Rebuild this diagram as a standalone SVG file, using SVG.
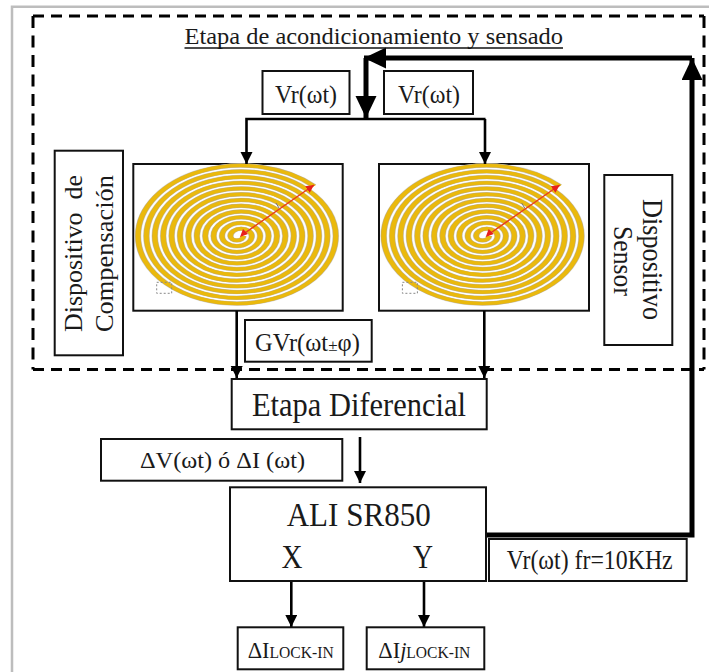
<svg xmlns="http://www.w3.org/2000/svg" width="709" height="672" viewBox="0 0 709 672">
<style>
.box{fill:#fff;stroke:#111;stroke-width:2}
.t{font-family:"Liberation Serif","Times New Roman",serif;fill:#1a1a1a}
.c{fill:none;stroke:#000;stroke-width:2.6}
.thick{fill:none;stroke:#000;stroke-width:5}
.dash{fill:none;stroke:#000;stroke-width:3}
.band0{fill:none;stroke:#d8d8d0;stroke-width:6.6}
.band1{fill:none;stroke:#c9ab5c;stroke-width:5.6}
.band2{fill:none;stroke:#eab90c;stroke-width:4.6}
</style>
<defs>
<marker id="hs" markerUnits="userSpaceOnUse" markerWidth="13" markerHeight="13" refX="12" refY="6" orient="auto"><path d="M0 0L12 6L0 12Z" fill="#000"/></marker>
<marker id="hb" markerUnits="userSpaceOnUse" markerWidth="23" markerHeight="22" refX="22" refY="10.500" orient="auto"><path d="M0 0L22 10.500L0 21Z" fill="#000"/></marker>
<marker id="hr" markerUnits="userSpaceOnUse" markerWidth="9" markerHeight="9" refX="8" refY="4" orient="auto"><path d="M0 0L8 4L0 8Z" fill="#e8201c"/></marker>
<path id="sp" d="M4.400 0A6.500 6.500 0 0 1 -8.600 0A10.700 10.700 0 0 1 12.800 0A14.900 14.900 0 0 1 -17 0A19.100 19.100 0 0 1 21.200 0A23.300 23.300 0 0 1 -25.400 0A27.500 27.500 0 0 1 29.600 0A31.700 31.700 0 0 1 -33.800 0A35.900 35.900 0 0 1 38 0A40.100 40.100 0 0 1 -42.200 0A44.300 44.300 0 0 1 46.400 0A48.500 48.500 0 0 1 -50.600 0A52.700 52.700 0 0 1 54.800 0A56.900 56.900 0 0 1 -59 0A61.100 61.100 0 0 1 63.200 0A65.300 65.300 0 0 1 -67.400 0A69.500 69.500 0 0 1 71.600 0A73.700 73.700 0 0 1 -75.800 0A77.900 77.900 0 0 1 80 0A82.100 82.100 0 0 1 -84.200 0A86.300 86.300 0 0 1 88.400 0A90.500 90.500 0 0 1 -92.600 0A94.700 94.700 0 0 1 96.800 0A98.900 98.900 0 0 1 -101 0A103.100 103.100 0 0 1 75 -72.900"/>
<g id="coil">
<g transform="translate(239 236) scale(1 .683)">
<use href="#sp" class="band0"/>
<use href="#sp" class="band1"/>
<use href="#sp" class="band2"/>
</g>
<rect x="156.700" y="282.300" width="15" height="11" fill="none" stroke="#888" stroke-width="1" stroke-dasharray="2 2"/>
<path d="M276 203L279 208" stroke="#777" stroke-width="1" fill="none"/>
<path d="M242 235L314 185" stroke="#e8401c" stroke-width="1.500" fill="none" marker-end="url(#hr)"/>
<path d="M240 237L243 229L248 234Z" fill="#e8201c"/>
</g>
</defs>
<rect width="709" height="672" fill="#fff"/>
<path d="M12 672V6.800H709" fill="none" stroke="#bdbdbd" stroke-width="2.500"/>
<g id="frame">
<path class="dash" d="M33 16H704M33 369.500H704" stroke-dasharray="11 7"/>
<path class="dash" d="M33 16V369.500M704 16V369.500" stroke-dasharray="12 7.500"/>
</g>

<g id="bobina-compensacion"><rect class="box" x="133.300" y="164" width="209.400" height="146.700"/><use href="#coil"/></g>
<g id="bobina-sensor"><rect class="box" x="379" y="164" width="210" height="146.700"/><use href="#coil" x="245.700"/></g>

<g id="connectors">
<path class="c" d="M366 119H485.500M366 119H246.500V164" marker-end="url(#hs)"/>
<path class="c" d="M485 119V164" marker-end="url(#hs)"/>
<path class="thick" d="M366 58V118" marker-end="url(#hb)"/>
<path class="thick" d="M692 58H364" marker-end="url(#hb)"/>
<path class="thick" d="M486 535H692V58" marker-end="url(#hb)"/>
<path class="c" d="M236.700 311V378" marker-end="url(#hs)"/>
<path class="c" d="M484.300 311V378" marker-end="url(#hs)"/>
<path class="c" d="M360 437V483" marker-end="url(#hs)"/>
<path class="c" d="M291.300 581V627" marker-end="url(#hs)"/>
<path class="c" d="M424 581V627" marker-end="url(#hs)"/>
</g>

<g id="titulo">
<text class="t" x="184.500" y="44" font-size="24" textLength="378.500" lengthAdjust="spacingAndGlyphs">Etapa de acondicionamiento  y sensado</text>
<path d="M184.500 48H563" stroke="#111" stroke-width="1.300"/>
</g>
<g id="vr1"><rect class="box" x="262.500" y="71" width="87" height="43"/><text class="t" x="275" y="103" font-size="26" textLength="62" lengthAdjust="spacingAndGlyphs">Vr(ωt)</text></g>
<g id="vr2"><rect class="box" x="384" y="71" width="89" height="43"/><text class="t" x="398" y="103" font-size="26" textLength="62" lengthAdjust="spacingAndGlyphs">Vr(ωt)</text></g>
<g id="disp-comp"><rect class="box" x="54.700" y="150.700" width="68.300" height="204.600"/>
<text class="t" transform="translate(82 332) rotate(-90)" font-size="26" textLength="157" lengthAdjust="spacingAndGlyphs" xml:space="preserve">Dispositivo  de</text>
<text class="t" transform="translate(113 332) rotate(-90)" font-size="25" textLength="157" lengthAdjust="spacingAndGlyphs">Compensación</text></g>
<g id="disp-sensor"><rect class="box" x="604.300" y="175" width="68" height="170"/>
<text class="t" transform="translate(643 199) rotate(90)" font-size="29" textLength="121" lengthAdjust="spacingAndGlyphs">Dispositivo</text>
<text class="t" transform="translate(614 226) rotate(90)" font-size="27" textLength="70" lengthAdjust="spacingAndGlyphs">Sensor</text></g>
<g id="gvr"><rect class="box" x="245" y="320" width="126.700" height="41.700"/>
<text class="t" x="255" y="351" font-size="24.500">GVr(ωt<tspan font-size="17">±</tspan>φ)</text></g>
<g id="diferencial"><rect class="box" x="231.700" y="379" width="255" height="50.300"/>
<text class="t" x="252" y="416" font-size="33" textLength="214" lengthAdjust="spacingAndGlyphs">Etapa Diferencial</text></g>
<g id="delta"><rect class="box" x="101" y="439" width="241.300" height="41.700"/>
<text class="t" x="140" y="468" font-size="24" textLength="165" lengthAdjust="spacingAndGlyphs">ΔV(ωt) ó ΔI (ωt)</text></g>
<g id="ali"><rect class="box" x="230" y="487.300" width="256" height="93.700"/>
<text class="t" x="286.700" y="525.700" font-size="33" textLength="144" lengthAdjust="spacingAndGlyphs">ALI SR850</text>
<text class="t" x="281.500" y="567.700" font-size="34" textLength="21" lengthAdjust="spacingAndGlyphs">X</text>
<text class="t" x="413" y="567.700" font-size="34" textLength="20" lengthAdjust="spacingAndGlyphs">Y</text></g>
<g id="vrfr"><rect class="box" x="489" y="539" width="197.700" height="42"/>
<text class="t" x="506.700" y="569.300" font-size="27" textLength="166" lengthAdjust="spacingAndGlyphs">Vr(ωt) fr=10KHz</text></g>
<g id="lockin-x"><rect class="box" x="237.700" y="627.300" width="105.600" height="42"/>
<text class="t" x="247.700" y="658" font-size="23" textLength="86" lengthAdjust="spacingAndGlyphs">ΔI<tspan font-size="16">LOCK-IN</tspan></text></g>
<g id="lockin-y"><rect class="box" x="366.700" y="627.300" width="117.600" height="42"/>
<text class="t" x="378.300" y="658" font-size="23" textLength="92" lengthAdjust="spacingAndGlyphs">ΔI<tspan font-style="italic">j</tspan><tspan font-size="16">LOCK-IN</tspan></text></g>
</svg>
